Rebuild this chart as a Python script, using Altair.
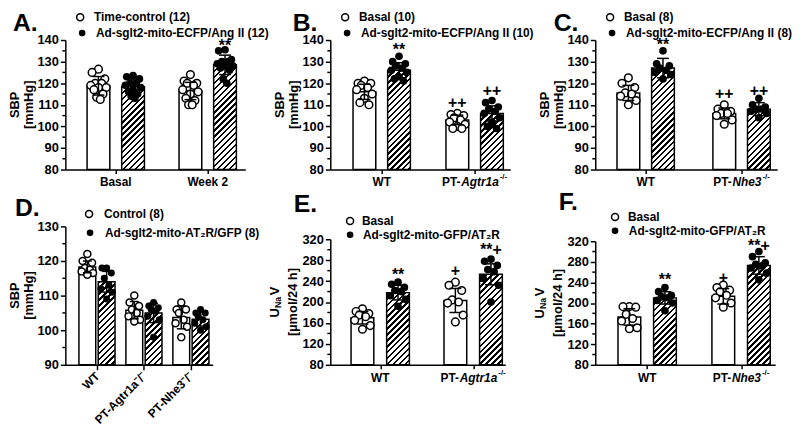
import altair as alt
import pandas as pd

FONT = "Liberation Sans"

# ===================== values =====================
# ---- Panel A ----
A_groups = ["Basal", "Week 2"]
A_legend = ["Time-control (12)", "Ad-sglt2-mito-ECFP/Ang II (12)"]
A_open_mean = [118.8, 116.4]
A_open_sd = [4.3, 4.0]
A_hatch_mean = [118.4, 128.5]
A_hatch_sd = [3.5, 4.5]
A_open_pts = [[126.5, 125, 122, 120, 120, 119, 118, 118, 117, 115, 113.5, 112.5],
              [124, 121, 120, 120, 119, 117, 116, 115, 113, 112, 110, 110]]
A_hatch_pts = [[123.5, 123, 122, 120, 120, 119, 118, 117, 116, 115, 114, 113],
               [135.5, 135, 131, 130, 130, 129, 128, 128, 127, 126, 122, 120]]
A_marks = [(1, 1, "**", 139.0)]

# ---- Panel B ----
B_groups = ["WT", "PT-Agtr1a-/-"]
B_legend = ["Basal (10)", "Ad-sglt2-mito-ECFP/Ang II (10)"]
B_open_mean = [116.0, 103.0]
B_open_sd = [3.5, 2.2]
B_hatch_mean = [126.0, 106.0]
B_hatch_sd = [3.5, 3.5]
B_open_pts = [[121, 120, 120, 119, 118, 117, 115, 113, 111, 110],
              [106, 105.5, 105, 104, 103, 102, 101, 100, 99, 99]]
B_hatch_pts = [[132.5, 130, 129, 128, 127, 126, 125, 123, 122, 121],
               [112, 111, 109, 108, 107, 106, 104, 102, 100, 99]]
B_marks = [(0, 1, "**", 137.0), (1, 0, "++", 111.0), (1, 1, "++", 116.5)]

# ---- Panel C ----
C_groups = ["WT", "PT-Nhe3-/-"]
C_legend = ["Basal (8)", "Ad-sglt2-mito-ECFP/Ang II (8)"]
C_open_mean = [115.5, 106.0]
C_open_sd = [3.5, 2.5]
C_hatch_mean = [127.0, 108.0]
C_hatch_sd = [4.5, 3.0]
C_open_pts = [[122.5, 120, 118, 115.5, 115, 114, 112, 110],
              [110, 108, 107, 106, 106, 105, 103, 101]]
C_hatch_pts = [[135, 129, 128, 127, 126, 125, 124, 122],
               [113, 110, 109, 108, 108, 107, 106, 104]]
C_marks = [(0, 1, "**", 139.5), (1, 0, "++", 115.0), (1, 1, "++", 116.5)]

# ---- Panel D ----
D_groups = ["WT", "PT-Agtr1a⁻/⁻", "PT-Nhe3⁻/⁻"]
D_legend = ["Control (8)", "Ad-sglt2-mito-AT₂R/GFP (8)"]
D_open_mean = [118.3, 105.8, 103.7]
D_open_sd = [1.7, 2.5, 3.3]
D_hatch_mean = [114.0, 105.0, 103.2]
D_hatch_sd = [3.0, 2.8, 2.0]
D_open_pts = [[122, 120, 119.5, 118, 117.5, 117, 116.5, 116],
              [110, 108, 107, 106, 105, 104, 103, 102.5],
              [108, 106, 106, 105, 103, 102, 101, 98]]
D_hatch_pts = [[118, 118, 116.5, 115, 113, 112, 111, 109],
               [108, 107, 106.5, 106, 105.5, 104, 103, 98],
               [106, 105, 105, 104, 103, 102, 101, 100]]
D_marks = []

# ---- Panel E ----
E_groups = ["WT", "PT-Agtr1a-/-"]
E_legend = ["Basal", "Ad-sglt2-mito-GFP/AT₂R"]
E_open_mean = [170.0, 203.0]
E_open_sd = [12.0, 23.0]
E_hatch_mean = [218.0, 253.0]
E_hatch_sd = [14.0, 20.0]
E_open_pts = [[187, 182, 178, 175, 172, 165, 155, 148],
              [238, 232, 222, 204, 200, 198, 175, 162]]
E_hatch_pts = [[238, 234, 228, 222, 220, 212, 205, 192],
               [282, 278, 270, 262, 258, 245, 232, 200]]
E_marks = [(0, 1, "**", 259.0), (1, 0, "+", 259.0), (1, 1, "**+", 303.0)]

# ---- Panel F ----
F_groups = ["WT", "PT-Nhe3-/-"]
F_legend = ["Basal", "Ad-sglt2-mito-GFP/AT₂R"]
F_open_mean = [173.0, 213.0]
F_open_sd = [16.0, 15.0]
F_hatch_mean = [210.0, 273.0]
F_hatch_sd = [12.0, 17.0]
F_open_pts = [[193, 193, 192, 178, 170, 165, 152, 150],
              [235, 230, 225, 222, 215, 210, 200, 192]]
F_hatch_pts = [[230, 222, 215, 212, 210, 205, 200, 185],
               [300, 290, 278, 275, 272, 268, 258, 245]]
F_marks = [(0, 1, "**", 252.0), (1, 0, "+", 249.0), (1, 1, "**+", 314.0)]

# axis ticks
SBP_domain = [80, 140]
SBP_ticks = [80, 90, 100, 110, 120, 130, 140]
SBP_minor = [85, 95, 105, 115, 125, 135]
D_domain = [90, 130]
D_ticks = [90, 100, 110, 120, 130]
D_minor = [95, 105, 115, 125]
UNA_domain = [80, 320]
UNA_ticks = [80, 120, 160, 200, 240, 280, 320]
UNA_minor = [100, 140, 180, 220, 260, 300]

# x label pieces (plain / italic / superscript)
A_xparts = [["Basal"], ["Week 2"]]
B_xparts = [["WT"], ["PT-", "Agtr1a", "-/-"]]
C_xparts = [["WT"], ["PT-", "Nhe3", "-/-"]]

SBP_title = ["SBP", "[mmHg]"]
UNA_title = [["U", "Na", "V"], "[µmol/24 h]"]

# ===================== styling helpers =====================
AW = {' ': 278, '-': 333, '/': 278, '1': 556, '2': 556, '3': 556, 'A': 722, 'B': 722,
      'N': 722, 'P': 667, 'T': 611, 'W': 944, 'a': 556, 'e': 556, 'g': 611, 'h': 611,
      'k': 556, 'l': 278, 'r': 389, 's': 556, 't': 333, 'U': 722, 'V': 667}


def tw(s, size):
    return sum(AW.get(c, 556) for c in s) * size / 1000.0


JIT = [0.0, -0.7, 0.7, -0.35, 0.35, -0.85, 0.85, 0.0, -0.5, 0.5, -0.2, 0.2]
SIG_DY = {"**": 4, "++": 0, "+": 0, "**+": 2}
TFS = 13  # y title font size


def hatch(w, h, period=6.0, line=2.4):
    L = w + h
    a = w * (w + h) / (w * w + h * h)
    stops = []
    pos = 0.0
    while pos < L - 1e-6:
        s0 = round(pos / L, 5)
        s1 = round(min((pos + line) / L, 1.0), 5)
        s2 = round(min((pos + period) / L, 1.0), 5)
        stops += [alt.GradientStop(offset=s0, color="black"),
                  alt.GradientStop(offset=s1, color="black"),
                  alt.GradientStop(offset=s1, color="white"),
                  alt.GradientStop(offset=s2, color="white")]
        pos += period
    return alt.LinearGradient(gradient="linear", stops=stops, x1=0, y1=0,
                              x2=round(a, 5), y2=round(a * h / w, 5))


PANEL_W = 184


def make_panel(P, L):
    sp = L["sp"]
    H = L["H"]
    xdom = [-L["c0"] / sp, (L["xw"] - L["c0"]) / sp]
    hw = L["bw"] / 2 / sp
    off = (L["gap"] + L["bw"]) / 2 / sp
    cap = L["cap"] / sp
    y0, y1 = P["ydom"]
    yr = L["yr"]
    xs = alt.Scale(domain=xdom, range=[0, L["xw"]], nice=False, zero=False)
    ys = alt.Scale(domain=[y0, y1], range=yr, nice=False, zero=False)
    ng = len(P["open_mean"])

    bar_rows, pt_rows = [], []
    for g in range(ng):
        for s in (0, 1):
            mean = (P["open_mean"], P["hatch_mean"])[s][g]
            sd = (P["open_sd"], P["hatch_sd"])[s][g]
            vals = (P["open_pts"], P["hatch_pts"])[s][g]
            xc = g + (off if s else -off)
            bar_rows.append(dict(g=g, s=s, xc=xc, x1=xc - hw, x2=xc + hw,
                                 c1=xc - cap, c2=xc + cap, mean=mean,
                                 lo=mean - sd, hi=mean + sd, base=y0))
            for i, v in enumerate(vals):
                pt_rows.append(dict(s=s, x=xc + JIT[i % len(JIT)] * hw * 0.8, v=v))
    bars = pd.DataFrame(bar_rows)
    pts = pd.DataFrame(pt_rows)

    if P.get("rot"):
        expr = "[" + ",".join("'" + n + "'" for n in P["groups"]) + "][datum.value]"
        xaxis = alt.Axis(values=list(range(ng)), title=None, labelExpr=expr,
                         labelAngle=-45, labelAlign="right", labelBaseline="middle",
                         labelFontSize=12, labelPadding=4, tickSize=5, grid=False,
                         labelOverlap=False, labelBound=False)
    else:
        xaxis = alt.Axis(values=list(range(ng)), title=None, labels=False,
                         tickSize=4, grid=False)
    yaxis = alt.Axis(values=P["yticks"], title=None, tickSize=5, labelPadding=2,
                     grid=False, labelOverlap=False)

    def X(f):
        return alt.X(f, type="quantitative", scale=xs, axis=xaxis)

    def Y(f):
        return alt.Y(f, type="quantitative", scale=ys, axis=yaxis)

    layers = []
    # open bars
    layers.append(alt.Chart(bars[bars.s == 0]).mark_rect(
        fill="white", stroke="black", strokeWidth=1.5).encode(
        x=X("x1"), x2="x2:Q", y=Y("mean"), y2="base:Q"))
    # hatched bars
    ppy = (yr[0] - yr[1]) / (y1 - y0)
    for g in range(ng):
        sub = bars[(bars.s == 1) & (bars.g == g)]
        h = (sub["mean"].iloc[0] - y0) * ppy
        layers.append(alt.Chart(sub).mark_rect(
            fill=hatch(L["bw"], h), stroke="black", strokeWidth=1.5).encode(
            x=X("x1"), x2="x2:Q", y=Y("mean"), y2="base:Q"))
    # points
    layers.append(alt.Chart(pts[pts.s == 0]).mark_circle(
        size=L["psize"], fill="white", stroke="black", strokeWidth=1.5, opacity=1).encode(
        x=X("x"), y=Y("v")))
    layers.append(alt.Chart(pts[pts.s == 1]).mark_circle(
        size=L["psize"], color="black", opacity=1).encode(x=X("x"), y=Y("v")))
    # error bars
    layers.append(alt.Chart(bars).mark_rule(color="black", strokeWidth=1.5).encode(
        x=X("xc"), y=Y("lo"), y2="hi:Q"))
    for f in ("hi", "lo"):
        layers.append(alt.Chart(bars).mark_rule(color="black", strokeWidth=1.5).encode(
            x=X("c1"), x2="c2:Q", y=Y(f)))
    # significance marks
    if P["marks"]:
        mk = pd.DataFrame([dict(x=bars[(bars.g == g) & (bars.s == s)].xc.iloc[0], t=t, y=y)
                           for g, s, t, y in P["marks"]])
        for t in mk.t.unique():
            layers.append(alt.Chart(mk[mk.t == t]).mark_text(
                font=FONT, fontWeight="bold", fontSize=16, baseline="middle",
                dy=SIG_DY.get(t, 2)).encode(x=X("x"), y=Y("y"), text="t:N"))
    # minor y ticks
    layers.append(alt.Chart(pd.DataFrame({"v": P["yminor"]})).mark_rule(
        color="black", strokeWidth=1.5).encode(
        x=alt.value(-3), x2=alt.value(0), y=Y("v")))
    # x labels built from pieces
    if not P.get("rot"):
        rows = []
        for g, p in enumerate(P["xparts"]):
            if len(p) == 1:
                rows.append(dict(x=g, t=p[0], k="c"))
            else:
                w0, w1, w2 = tw(p[0], 12), tw(p[1], 12), tw(p[2], 8)
                start = -(w0 + w1 + w2 + 1) / 2
                rows.append(dict(x=g + start / sp, t=p[0], k="l"))
                rows.append(dict(x=g + (start + w0) / sp, t=p[1], k="i"))
                rows.append(dict(x=g + (start + w0 + w1 + 1) / sp, t=p[2], k="s"))
        xl = pd.DataFrame(rows)
        styles = {"c": dict(align="center", fontSize=12, dyv=13),
                  "l": dict(align="left", fontSize=12, dyv=13),
                  "i": dict(align="left", fontSize=12, dyv=13, fontStyle="italic"),
                  "s": dict(align="left", fontSize=8, dyv=8)}
        for k, st in styles.items():
            sub = xl[xl.k == k]
            if len(sub) == 0:
                continue
            kw = dict(st)
            dyv = kw.pop("dyv")
            layers.append(alt.Chart(sub).mark_text(
                font=FONT, fontWeight="bold", baseline="middle", **kw).encode(
                x=X("x"), y=alt.value(H + dyv), text="t:N"))
    # legend
    for i in (0, 1):
        ly = L["leg_y"][i]
        d = pd.DataFrame({"t": [P["legend"][i]]})
        if i == 0:
            sym = alt.Chart(d).mark_circle(size=50, fill="white", stroke="black",
                                           strokeWidth=1.5, opacity=1)
        else:
            sym = alt.Chart(d).mark_circle(size=45, color="black", opacity=1)
        layers.append(sym.encode(x=alt.value(L["sym_x"][i]), y=alt.value(ly)))
        layers.append(alt.Chart(d).mark_text(
            font=FONT, fontWeight="bold", fontSize=12, align="left", baseline="middle").encode(
            x=alt.value(L["txt_x"][i]), y=alt.value(ly), text="t:N"))
    # panel letter
    layers.append(alt.Chart(pd.DataFrame({"t": [P["letter"]]})).mark_text(
        font=FONT, fontWeight="bold", fontSize=25, align="left", baseline="alphabetic").encode(
        x=alt.value(L["letter"][0]), y=alt.value(L["letter"][1]), text="t:N"))
    # y titles
    ymid = (yr[0] + yr[1]) / 2
    t1, t2 = P["ytitle"]
    if isinstance(t1, str):
        layers.append(alt.Chart(pd.DataFrame({"t": [t1]})).mark_text(
            font=FONT, fontWeight="bold", fontSize=TFS, angle=270, align="center",
            baseline="middle").encode(x=alt.value(L["tx"][0]), y=alt.value(ymid), text="t:N"))
    else:
        wU, wN, wV = tw(t1[0], TFS), tw("Na", 9), tw(t1[2], TFS)
        ystart = ymid + (wU + wN + wV + 1.5) / 2
        pieces = [(t1[0], TFS, 0, ystart), (t1[1], 9, 3, ystart - wU),
                  (t1[2], TFS, 0, ystart - wU - wN - 1.5)]
        for txt, fs, dxp, yy in pieces:
            layers.append(alt.Chart(pd.DataFrame({"t": [txt]})).mark_text(
                font=FONT, fontWeight="bold", fontSize=fs, angle=270, align="left",
                baseline="middle").encode(x=alt.value(L["tx"][0] + dxp), y=alt.value(yy),
                                          text="t:N"))
    layers.append(alt.Chart(pd.DataFrame({"t": [t2]})).mark_text(
        font=FONT, fontWeight="bold", fontSize=TFS, angle=270, align="center",
        baseline="middle").encode(x=alt.value(L["tx"][1]), y=alt.value(ymid), text="t:N"))

    return alt.layer(*layers).properties(width=PANEL_W, height=H)


ROW1 = dict(H=131, yr=[131, 0], bw=23, gap=12, cap=6, psize=60,
            leg_y=[-23, -7], sym_x=[15, 17], txt_x=[29, 31], tx=[-51, -37])
LA = dict(ROW1, xw=182, c0=51, sp=93, letter=[-53, -9])
LB = dict(ROW1, xw=182, c0=52, sp=94, letter=[-38, -9])
LC = dict(ROW1, xw=184, c0=51, sp=97, letter=[-42, -9])
LD = dict(H=140, yr=[140, 0], xw=149, c0=32, sp=47.5, bw=17, gap=2.5, cap=4.5, psize=50,
          leg_y=[-12.5, 6.5], sym_x=[24, 25], txt_x=[39, 40], tx=[-51, -37],
          letter=[-51, -11])
LE = dict(H=140, yr=[140, 13], xw=177, c0=50.5, sp=94, bw=23, gap=13, cap=6, psize=60,
          leg_y=[-5.5, 8.5], sym_x=[20, 20], txt_x=[32, 33], tx=[-56, -38],
          letter=[-37, -14.5])
LF = dict(H=140, yr=[140, 15], xw=182, c0=52.5, sp=95, bw=23, gap=13, cap=6, psize=60,
          leg_y=[-9.5, 4.5], sym_x=[20, 20], txt_x=[33, 34], tx=[-56, -38],
          letter=[-37, -16.5])

PA = dict(letter="A.", groups=A_groups, legend=A_legend, open_mean=A_open_mean,
          open_sd=A_open_sd, hatch_mean=A_hatch_mean, hatch_sd=A_hatch_sd,
          open_pts=A_open_pts, hatch_pts=A_hatch_pts, marks=A_marks, ydom=SBP_domain,
          yticks=SBP_ticks, yminor=SBP_minor, xparts=A_xparts, ytitle=SBP_title)
PB = dict(letter="B.", groups=B_groups, legend=B_legend, open_mean=B_open_mean,
          open_sd=B_open_sd, hatch_mean=B_hatch_mean, hatch_sd=B_hatch_sd,
          open_pts=B_open_pts, hatch_pts=B_hatch_pts, marks=B_marks, ydom=SBP_domain,
          yticks=SBP_ticks, yminor=SBP_minor, xparts=B_xparts, ytitle=SBP_title)
PC = dict(letter="C.", groups=C_groups, legend=C_legend, open_mean=C_open_mean,
          open_sd=C_open_sd, hatch_mean=C_hatch_mean, hatch_sd=C_hatch_sd,
          open_pts=C_open_pts, hatch_pts=C_hatch_pts, marks=C_marks, ydom=SBP_domain,
          yticks=SBP_ticks, yminor=SBP_minor, xparts=C_xparts, ytitle=SBP_title)
PD = dict(letter="D.", groups=D_groups, legend=D_legend, open_mean=D_open_mean,
          open_sd=D_open_sd, hatch_mean=D_hatch_mean, hatch_sd=D_hatch_sd,
          open_pts=D_open_pts, hatch_pts=D_hatch_pts, marks=D_marks, ydom=D_domain,
          yticks=D_ticks, yminor=D_minor, rot=True, ytitle=SBP_title)
PE = dict(letter="E.", groups=E_groups, legend=E_legend, open_mean=E_open_mean,
          open_sd=E_open_sd, hatch_mean=E_hatch_mean, hatch_sd=E_hatch_sd,
          open_pts=E_open_pts, hatch_pts=E_hatch_pts, marks=E_marks, ydom=UNA_domain,
          yticks=UNA_ticks, yminor=UNA_minor, xparts=B_xparts, ytitle=UNA_title)
PF = dict(letter="F.", groups=F_groups, legend=F_legend, open_mean=F_open_mean,
          open_sd=F_open_sd, hatch_mean=F_hatch_mean, hatch_sd=F_hatch_sd,
          open_pts=F_open_pts, hatch_pts=F_hatch_pts, marks=F_marks, ydom=UNA_domain,
          yticks=UNA_ticks, yminor=UNA_minor, xparts=C_xparts, ytitle=UNA_title)

panels = [make_panel(PA, LA), make_panel(PB, LB), make_panel(PC, LC),
          make_panel(PD, LD), make_panel(PE, LE), make_panel(PF, LF)]

chart = alt.concat(*panels, columns=3, spacing={"row": 57.5, "column": 84},
                   bounds="flush", align="each").properties(
    padding={"left": 1, "top": 0, "right": 0, "bottom": 0}
).configure(font=FONT).configure_view(stroke=None).configure_axis(
    labelFont=FONT, labelFontWeight="bold", labelFontSize=13, labelColor="black",
    domainColor="black", domainWidth=1.5, tickColor="black", tickWidth=1.5, grid=False)

chart.save("out.html", embed_options={"renderer": "svg", "actions": False})
